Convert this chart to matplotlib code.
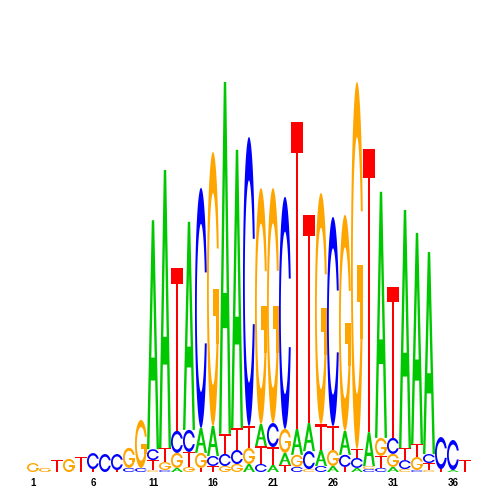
import numpy as np
import matplotlib
matplotlib.use('Agg')
import matplotlib.pyplot as plt
from matplotlib.path import Path
from matplotlib.patches import PathPatch, Polygon

# sequence logo, stacks listed bottom -> top, heights in bits
positions = list(range(1, 38))
stack_letters = [
    'G', 'G', 'T', 'G', 'T', 'TC', 'C', 'TC', 'CG', 'CG',
    'GTCA', 'CGTA', 'AGCT', 'GTCA', 'TGAC', 'TCAG', 'GCTA', 'GCTA', 'AGTC', 'CTAG',
    'ATCG', 'TAGC', 'CGAT', 'GCAT', 'CATG', 'AGTC', 'TCAG', 'ACTG', 'CGAT', 'CTGA',
    'AGCT', 'GCTA', 'CGTA', 'GTCA', 'TC', 'AC', 'T',
]
stack_heights = [
    [0.046], [0.021], [0.062], [0.067], [0.077],
    [0.015, 0.082], [0.092], [0.010, 0.082], [0.021, 0.103], [0.021, 0.246],
    [0.010, 0.051, 0.056, 1.174], [0.010, 0.041, 0.072, 1.426],
    [0.021, 0.077, 0.113, 0.836], [0.026, 0.077, 0.113, 1.067],
    [0.021, 0.077, 0.128, 1.231], [0.031, 0.051, 0.154, 1.405],
    [0.031, 0.062, 0.103, 1.805], [0.041, 0.072, 0.113, 1.426],
    [0.041, 0.082, 0.113, 1.482], [0.041, 0.092, 0.113, 1.210],
    [0.036, 0.092, 0.123, 1.205], [0.036, 0.062, 0.123, 1.190],
    [0.026, 0.062, 0.133, 1.574], [0.015, 0.092, 0.144, 1.067],
    [0.031, 0.082, 0.133, 1.185], [0.031, 0.082, 0.123, 1.072],
    [0.026, 0.062, 0.123, 1.108], [0.021, 0.051, 0.046, 1.882],
    [0.015, 0.015, 0.174, 1.451], [0.021, 0.062, 0.092, 1.262],
    [0.026, 0.067, 0.082, 0.774], [0.015, 0.046, 0.062, 1.221],
    [0.010, 0.067, 0.067, 1.082], [0.010, 0.036, 0.046, 1.036],
    [0.015, 0.164], [0.010, 0.154], [0.062],
]
tick_pos = [1, 6, 11, 16, 21, 26, 31, 36]

warna = {'A': '#00C800', 'C': '#0000FF', 'G': '#FFA500', 'T': '#FF0000'}


# bentuk huruf dalam kotak satuan (gaya polygon seqLogo)
def bentuk_cincin():
    a1 = np.linspace(0.3 + np.pi / 2, np.pi, 100)
    a2 = np.linspace(np.pi, 1.5 * np.pi, 100)
    xl = np.concatenate([0.5 + 0.5 * np.sin(a1), 0.5 + 0.5 * np.sin(a2)])
    yl = np.concatenate([0.5 + 0.5 * np.cos(a1), 0.5 + 0.5 * np.cos(a2)])
    x = np.concatenate([xl, xl[::-1]])
    y = np.concatenate([yl, 1 - yl[::-1]])
    ymax = (0.5 + 0.5 * np.cos(a1)).max()
    xi1 = 0.5 + 0.35 * np.sin(a1)
    yi1 = 0.5 + 0.35 * np.cos(a1)
    m = yi1 <= ymax
    xi1, yi1 = xi1[m], yi1[m]
    yi1[0] = ymax
    xi = np.concatenate([xi1, 0.5 + 0.35 * np.sin(a2)])
    yi = np.concatenate([yi1, 0.5 + 0.35 * np.cos(a2)])
    x1 = np.concatenate([xi, xi[::-1]])
    y1 = np.concatenate([yi, 1 - yi[::-1]])
    x = np.concatenate([x, x1[::-1]])
    y = np.concatenate([y, y1[::-1]])
    return np.column_stack([x, y])


cincin = bentuk_cincin()
r1 = (0.5 + 0.5 * np.sin(np.linspace(0.3 + np.pi / 2, np.pi, 100))).max()
h1 = 0.5
taji_g = np.array([[r1, h1], [0.5, h1], [0.5, h1 - 0.1], [r1 - 0.2, h1 - 0.1],
                   [r1 - 0.2, 0.3], [r1, 0.3], [r1, h1]])
luar_a = np.array([[0, 0], [4, 10], [6, 10], [10, 0], [8, 0], [6.8, 3],
                   [3.2, 3], [2, 0], [0, 0]]) * 0.1
dalam_a = np.array([[3.6, 4], [6.4, 4], [5, 7.5], [3.6, 4]]) * 0.1
bentuk_t = np.array([[0, 10], [10, 10], [10, 9], [6, 9], [6, 0], [4, 0],
                     [4, 9], [0, 9]]) * 0.1


def gambar_huruf(ax, ch, x, y, w, h):
    c = warna[ch]
    geser = lambda p: np.column_stack([x + w * p[:, 0], y + h * p[:, 1]])
    if ch == 'A':
        v = np.vstack([geser(luar_a), geser(dalam_a)])
        kode = [Path.MOVETO] + [Path.LINETO] * (len(luar_a) - 2) + [Path.CLOSEPOLY] \
            + [Path.MOVETO] + [Path.LINETO] * (len(dalam_a) - 2) + [Path.CLOSEPOLY]
        ax.add_patch(PathPatch(Path(v, kode), facecolor=c, edgecolor='none'))
    elif ch == 'T':
        ax.add_patch(Polygon(geser(bentuk_t), closed=True, facecolor=c, edgecolor='none'))
    else:
        ax.add_patch(Polygon(geser(cincin), closed=True, facecolor=c, edgecolor='none'))
        if ch == 'G':
            ax.add_patch(Polygon(geser(taji_g), closed=True, facecolor=c, edgecolor='none'))


fig = plt.figure(figsize=(5, 5), dpi=100)
ax = fig.add_axes([27 / 500, 28 / 500, 444 / 500, 390 / 500])

for p, hs, hh in zip(positions, stack_letters, stack_heights):
    y = 0
    for ch, h in zip(hs, hh):
        gambar_huruf(ax, ch, p - 0.5, y, 1.0, h)
        y += h

ax.set_xlim(0.5, 37.5)
ax.set_ylim(0, 2)
ax.set_xticks(tick_pos)
ax.set_xticklabels([str(t) for t in tick_pos], fontsize=7,
                   fontweight='bold', family='Liberation Sans')
ax.tick_params(axis='x', length=0, pad=4)
ax.set_yticks([])
for s in ax.spines.values():
    s.set_visible(False)

fig.savefig('out.png', dpi=100)
